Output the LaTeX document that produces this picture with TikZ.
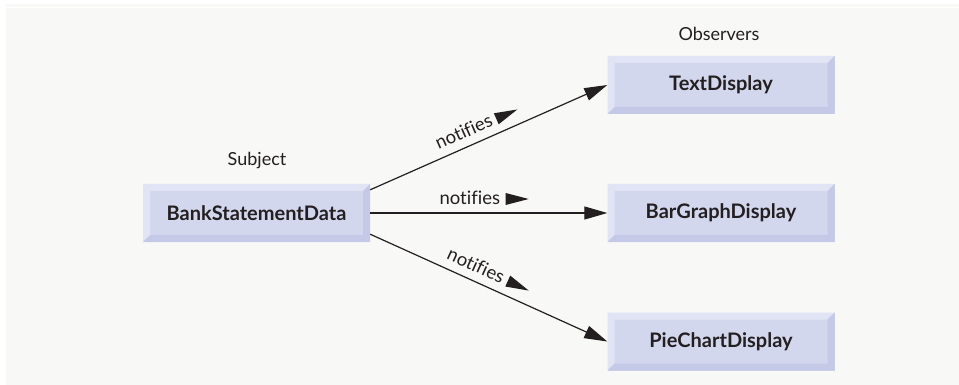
\documentclass[tikz,border=0pt]{standalone}
\usepackage{fontspec}
\setmainfont{Lato}[Ligatures=NoCommon]
\usetikzlibrary{arrows.meta}
\definecolor{bgpanel}{HTML}{F8F8F6}
\definecolor{face}{HTML}{D3D7ED}
\definecolor{bevlight}{HTML}{E1E4F4}
\definecolor{bevdark}{HTML}{C3C9E6}
\definecolor{ink}{HTML}{231F20}
\tikzset{
  bevbox/.style={minimum width=227pt, minimum height=58pt, inner sep=0pt,
    fill=face, text=ink, font=\bfseries\fontsize{20}{21}\selectfont,
    path picture={
      \coordinate (NW) at (path picture bounding box.north west);
      \coordinate (NE) at (path picture bounding box.north east);
      \coordinate (SW) at (path picture bounding box.south west);
      \coordinate (SE) at (path picture bounding box.south east);
      \fill[bevlight] (NW) -- (NE) -- ([shift={(-7pt,-7pt)}]NE) -- ([shift={(7pt,-7pt)}]NW) -- cycle;
      \fill[bevlight] (NW) -- ([shift={(7pt,-7pt)}]NW) -- ([shift={(7pt,7pt)}]SW) -- (SW) -- cycle;
      \fill[bevdark] (SW) -- (SE) -- ([shift={(-7pt,7pt)}]SE) -- ([shift={(7pt,7pt)}]SW) -- cycle;
      \fill[bevdark] (NE) -- (SE) -- ([shift={(-7pt,7pt)}]SE) -- ([shift={(-7pt,-7pt)}]NE) -- cycle;
    }},
  caption/.style={text=ink, font=\fontsize{18}{19}\selectfont, inner sep=0pt},
  conn/.style={draw=ink, line width=1.2pt, -{Triangle[length=23pt,width=13pt]}},
  lbl/.style={sloped, pos=0.42, above=8pt, inner sep=0pt, text=ink, font=\fontsize{18.5}{19}\selectfont},
  dirtri/.pic={\fill[ink] (-11.5pt,8pt) -- (11.5pt,14pt) -- (-11.5pt,20pt) -- cycle;}
}
\begin{document}
\begin{tikzpicture}[x=1pt,y=-1pt]
\useasboundingbox (0,0) rectangle (959,385);
\fill[white] (0,0) rectangle (959,385);
\fill[bgpanel] (6,4) rectangle (959,385);
\draw[white, line width=1pt] (6,8) -- (959,8);

\node[caption] (subj) at (257,161) {Subject};
\node[caption] (obs) at (719,34) {Observers};

\node[bevbox] (bank) at (256.5,213) {BankStatementData};
\node[bevbox] (text) at (721,85) {TextDisplay};
\node[bevbox] (bar) at (721,213) {BarGraphDisplay};
\node[bevbox] (pie) at (721,341.5) {PieChartDisplay};

\coordinate (s1) at ([yshift=-6pt]bank.north east);
\coordinate (s3) at ([yshift=8pt]bank.south east);

\draw[conn] (s1) -- (text.west) node[lbl] (l1) {notifies} pic[sloped, pos=0.6] {dirtri};
\draw[conn] (bank.east) -- (bar.west) node[lbl] (l2) {notifies} pic[sloped, pos=0.62] {dirtri};
\draw[conn] (s3) -- (pie.west) node[lbl] (l3) {notifies} pic[sloped, pos=0.6] {dirtri};
\end{tikzpicture}
\end{document}
